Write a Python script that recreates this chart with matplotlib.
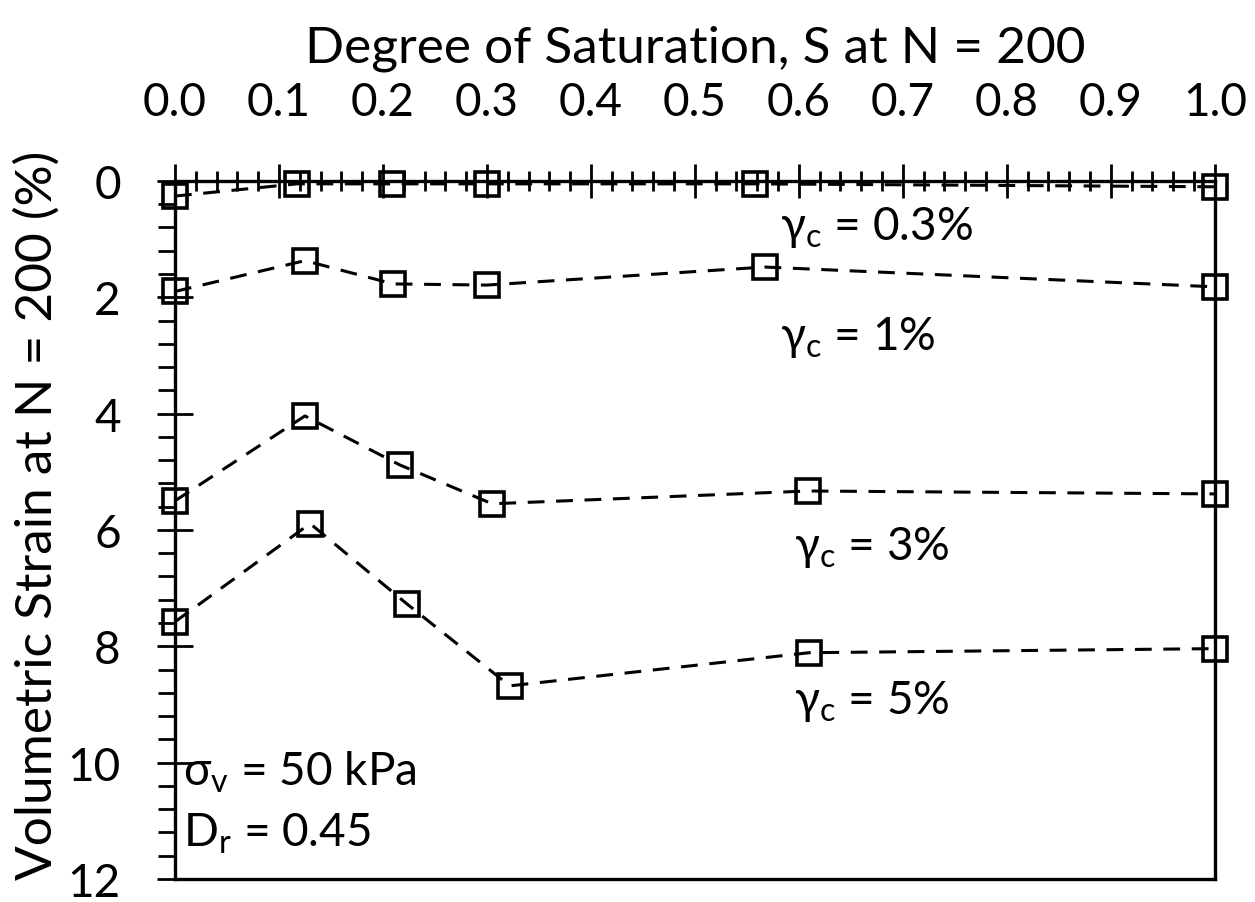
import matplotlib.pyplot as plt
from matplotlib.ticker import MultipleLocator

plt.rcParams['font.family'] = ['Lato', 'DejaVu Sans']

# degree of saturation (x) and volumetric strain (y) for each cyclic shear strain
s_03 = [0.0, 0.117, 0.209, 0.30, 0.558, 1.0]
ev_03 = [0.26, 0.05, 0.05, 0.05, 0.05, 0.10]
s_1 = [0.0, 0.125, 0.21, 0.30, 0.567, 1.0]
ev_1 = [1.90, 1.37, 1.77, 1.79, 1.48, 1.82]
s_3 = [0.0, 0.125, 0.216, 0.305, 0.609, 1.0]
ev_3 = [5.50, 4.04, 4.88, 5.55, 5.33, 5.38]
s_5 = [0.0, 0.13, 0.223, 0.322, 0.61, 1.0]
ev_5 = [7.58, 5.89, 7.27, 8.68, 8.11, 8.04]

fig = plt.figure(figsize=(12.55, 9.03), dpi=100)
ax = fig.add_axes([0.1394, 0.0255, 0.8286, 0.773])

for s, ev in [(s_03, ev_03), (s_1, ev_1), (s_3, ev_3), (s_5, ev_5)]:
    ax.plot(s, ev, color='black', linestyle=(0, (5.5, 3.8)), linewidth=2.2,
            marker='s', markersize=17, markerfacecolor='none',
            markeredgecolor='black', markeredgewidth=2.6, clip_on=False)

ax.set_xlim(0, 1.0)
ax.set_ylim(12, 0)
ax.xaxis.tick_top()
ax.xaxis.set_label_position('top')
ax.xaxis.set_major_locator(MultipleLocator(0.1))
ax.xaxis.set_minor_locator(MultipleLocator(0.02))
ax.yaxis.set_major_locator(MultipleLocator(2))
ax.yaxis.set_minor_locator(MultipleLocator(0.4))
ax.xaxis.set_major_formatter(lambda v, p: f'{v:.1f}')

for side in ['top', 'left', 'right', 'bottom']:
    ax.spines[side].set_linewidth(2.4)

ax.tick_params(axis='x', which='major', direction='inout', length=24, width=2,
               labelsize=33, pad=30)
ax.tick_params(axis='x', which='minor', direction='inout', length=14, width=2)
ax.tick_params(axis='y', which='major', direction='inout', length=26, width=2,
               labelsize=33, pad=26)
ax.tick_params(axis='y', which='minor', direction='out', length=12, width=2)

ax.set_xlabel('Degree of Saturation, S at N = 200', fontsize=37, labelpad=14)
ax.set_ylabel('Volumetric Strain at N = 200 (%)', fontsize=37, labelpad=5)
ax.yaxis.label.set_y(0.523)

fs = 33
ax.text(0.582, 0.78, 'γ$_\\mathregular{c}$ = 0.3%', fontsize=fs, va='center')
ax.text(0.582, 2.68, 'γ$_\\mathregular{c}$ = 1%', fontsize=fs, va='center')
ax.text(0.595, 6.28, 'γ$_\\mathregular{c}$ = 3%', fontsize=fs, va='center')
ax.text(0.595, 8.93, 'γ$_\\mathregular{c}$ = 5%', fontsize=fs, va='center')
ax.text(0.008, 10.15, 'σ$_\\mathregular{v}$ = 50 kPa', fontsize=fs, va='center')
ax.text(0.008, 11.2, 'D$_\\mathregular{r}$ = 0.45', fontsize=fs, va='center')

fig.savefig('out.png', dpi=100)
